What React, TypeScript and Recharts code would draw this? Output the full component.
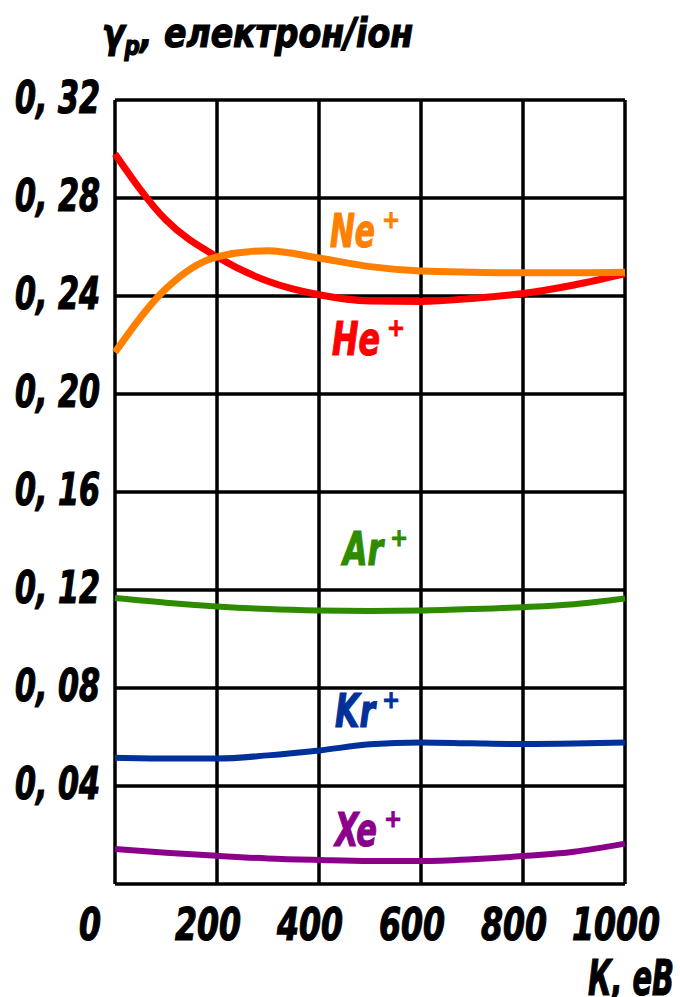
import React from 'react';
import { LineChart, Line, XAxis, YAxis, CartesianGrid } from 'recharts';

// energy, eV
const kValues = [0, 100, 200, 300, 400, 500, 600, 700, 800, 900, 1000];
// yield per ion
const heValues = [0.298, 0.271, 0.256, 0.246, 0.2405, 0.238, 0.2378, 0.239, 0.241, 0.2445, 0.249];
const neValues = [0.217, 0.243, 0.256, 0.2585, 0.2555, 0.252, 0.2502, 0.2497, 0.2495, 0.2495, 0.2497];
const arValues = [0.1167, 0.1148, 0.1133, 0.1122, 0.1116, 0.1114, 0.1116, 0.1122, 0.113, 0.1142, 0.1165];
const krValues = [0.0515, 0.0512, 0.0512, 0.0525, 0.0545, 0.057, 0.0578, 0.0574, 0.0571, 0.0573, 0.0578];
const xeValues = [0.0143, 0.0128, 0.0115, 0.0104, 0.0098, 0.0094, 0.0094, 0.0101, 0.0114, 0.0132, 0.0165];

const xTicks = [0, 200, 400, 600, 800, 1000];
const yTicks = [0, 0.04, 0.08, 0.12, 0.16, 0.2, 0.24, 0.28, 0.32];

const data = kValues.map((k, i) => ({
  k,
  he: heValues[i],
  ne: neValues[i],
  ar: arValues[i],
  kr: krValues[i],
  xe: xeValues[i],
}));

const FONT = '"DejaVu Sans Condensed", "DejaVu Sans", sans-serif';

const XTick = (props: any) => {
  const { x, y, payload } = props;
  const s = String(payload.value);
  const shift = payload.value === 0 ? -25 : -9;
  return (
    <text
      x={x + shift}
      y={y + 48}
      textAnchor="middle"
      fontFamily={FONT}
      fontWeight="bold"
      fontStyle="italic"
      fontSize={45}
      fill="#000"
      stroke="#000"
      strokeWidth={1.2}
      textLength={s.length * 22}
      lengthAdjust="spacingAndGlyphs"
    >
      {s}
    </text>
  );
};

const YTick = (props: any) => {
  const { y, payload } = props;
  if (payload.value === 0) return null;
  const hundredths = String(Math.round(payload.value * 100)).padStart(2, '0');
  return (
    <text
      x={100}
      y={y + 13}
      textAnchor="end"
      fontFamily={FONT}
      fontWeight="bold"
      fontStyle="italic"
      fontSize={44}
      fill="#000"
      stroke="#000"
      strokeWidth={1.2}
      textLength={85}
      lengthAdjust="spacingAndGlyphs"
    >
      {'0, ' + hundredths}
    </text>
  );
};

const Ion = ({ name, color, x, y, w }: { name: string; color: string; x: number; y: number; w: number }) => (
  <g fill={color} stroke={color} fontFamily={FONT} fontWeight="bold" fontStyle="italic">
    <text x={x} y={y} fontSize={46} strokeWidth={1.2} textLength={w} lengthAdjust="spacingAndGlyphs">
      {name}
    </text>
    <text x={x + w + 7} y={y - 19} fontSize={24} strokeWidth={0.8} fontStyle="normal">
      +
    </text>
  </g>
);

export default function App() {
  return (
    <div style={{ position: 'relative', width: 680, height: 997, background: '#fff' }}>
      <style>{'body{margin:0}'}</style>
      <LineChart width={680} height={997} data={data} margin={{ top: 100, right: 55, bottom: 0, left: 0 }}>
        <CartesianGrid stroke="#000" strokeWidth={3.5} horizontalValues={yTicks} verticalValues={xTicks} />
        <XAxis
          dataKey="k"
          type="number"
          domain={[0, 1000]}
          ticks={xTicks}
          axisLine={false}
          tickLine={false}
          height={113}
          tick={<XTick />}
          interval={0}
        />
        <YAxis
          type="number"
          domain={[0, 0.32]}
          ticks={yTicks}
          axisLine={false}
          tickLine={false}
          width={115}
          tick={<YTick />}
          interval={0}
        />
        <Line dataKey="he" type="monotone" stroke="#ff0000" strokeWidth={7} dot={false} isAnimationActive={false} />
        <Line dataKey="ne" type="monotone" stroke="#ff8000" strokeWidth={7} dot={false} isAnimationActive={false} />
        <Line dataKey="ar" type="monotone" stroke="#2e8b00" strokeWidth={6} dot={false} isAnimationActive={false} />
        <Line dataKey="kr" type="monotone" stroke="#00309a" strokeWidth={6} dot={false} isAnimationActive={false} />
        <Line dataKey="xe" type="monotone" stroke="#8b008b" strokeWidth={6} dot={false} isAnimationActive={false} />
      </LineChart>
      <svg width={680} height={997} style={{ position: 'absolute', left: 0, top: 0, pointerEvents: 'none' }}>
        <text
          x={102}
          y={47}
          fontFamily={FONT}
          fontWeight="bold"
          fontStyle="italic"
          fontSize={40}
          fill="#000"
          stroke="#000"
          strokeWidth={1.2}
          textLength={311}
          lengthAdjust="spacingAndGlyphs"
        >
          γ<tspan fontSize={26} dy={8}>p</tspan>
          <tspan dy={-8}>, електрон/іон</tspan>
        </text>
        <text
          x={588}
          y={995}
          fontFamily={FONT}
          fontWeight="bold"
          fontStyle="italic"
          fontSize={50}
          fill="#000"
          stroke="#000"
          strokeWidth={1.2}
          textLength={86}
          lengthAdjust="spacingAndGlyphs"
        >
          К, еВ
        </text>
        <Ion name="Ne" color="#ff8000" x={330} y={247} w={45} />
        <Ion name="He" color="#ff0000" x={332} y={355} w={48} />
        <Ion name="Ar" color="#2e8b00" x={343} y={565} w={40} />
        <Ion name="Kr" color="#00309a" x={335} y={727} w={40} />
        <Ion name="Xe" color="#8b008b" x={335} y={846} w={42} />
      </svg>
    </div>
  );
}
